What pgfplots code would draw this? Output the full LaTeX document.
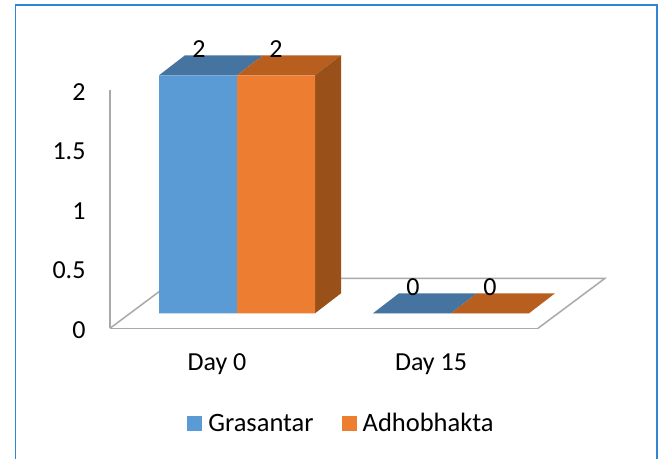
\documentclass[border=0pt]{standalone}
\usepackage{fontspec}
\setmainfont{Carlito}
\usepackage{xcolor}
\usepackage{pgfplots}
\pgfplotsset{compat=1.18}
\definecolor{serA}{HTML}{5B9BD5}
\definecolor{serAtop}{HTML}{44749F}
\definecolor{serB}{HTML}{ED7D31}
\definecolor{serBtop}{HTML}{B85E1F}
\definecolor{serBside}{HTML}{9A5119}
\definecolor{wall}{HTML}{A9A9A9}
\definecolor{frameblue}{HTML}{2F86D2}
\pgfplotsset{sqlegend/.style={legend image code/.code={\fill[##1] (0pt,-7.5pt) rectangle (15pt,7.5pt);}}}
\begin{document}
\begin{tikzpicture}[x=1pt,y=1pt]
\fill[white] (0,0) rectangle (659,459);
% outer frame, its lower edge is cut off in the original
\draw[frameblue,line width=1.8pt] (15.5,0) -- (15.5,453.7) -- (657,453.7) -- (657,0);

% back wall and floor, with the value ticks
\begin{axis}[
    at={(110pt,130.7pt)}, anchor=south west,
    scale only axis, width=428pt, height=238pt,
    xmin=-0.5, xmax=1.5, ymin=0, ymax=2,
    axis x line*=bottom, axis y line*=left,
    axis line style={wall,line width=1.5pt,-},
    xtick={0,1}, xticklabels={Day 0,Day 15},
    ytick={0,0.5,1,1.5,2},
    yticklabels={0,0.5,1,1.5,2},
    tick style={draw=none},
    tick label style={font=\fontsize{26}{30}\selectfont},
    xticklabel style={yshift=-22pt},
    yticklabel style={xshift=-21pt,yshift=-1.5pt},
    clip=false,
]
\addplot[wall,line width=1.5pt,forget plot] coordinates {(-0.5,0) (-0.187,0.42) (1.813,0.42) (1.5,0)};
\end{axis}

% bars, moved into the floor by the depth of the front plane
\begin{axis}[
    at={(130pt,145.7pt)}, anchor=south west,
    scale only axis, width=428pt, height=238pt,
    xmin=-0.5, xmax=1.5, ymin=0, ymax=2,
    hide axis, clip=false,
    /pgf/number format/assume math mode=true,
    legend style={at={(0.494,-0.463)}, anchor=center, draw=none, fill=none,
        font=\fontsize{26.5}{30}\selectfont, legend columns=2,
        /tikz/every odd column/.append style={column sep=4pt},
        /tikz/every even column/.append style={column sep=26pt}},
    every node near coord/.append style={font=\fontsize{26}{30}\selectfont,yshift=14pt},
]
% tops and side faces
\addplot[fill=serAtop,draw=none,forget plot] coordinates {(-0.3645,2) (0,2) (0.1215,2.168) (-0.243,2.168)} -- cycle;
\addplot[fill=serBtop,draw=none,forget plot] coordinates {(0,2) (0.3645,2) (0.486,2.168) (0.1215,2.168)} -- cycle;
\addplot[fill=serBside,draw=none,forget plot] coordinates {(0.3645,0) (0.3645,2) (0.486,2.168) (0.486,0.168)} -- cycle;
\addplot[fill=serAtop,draw=none,forget plot] coordinates {(0.6355,0) (1,0) (1.1215,0.168) (0.757,0.168)} -- cycle;
\addplot[fill=serBtop,draw=none,forget plot] coordinates {(1,0) (1.3645,0) (1.486,0.168) (1.1215,0.168)} -- cycle;
% front faces
\addplot[ybar,bar width=78pt,bar shift=-39pt,fill=serA,draw=none,sqlegend,
    nodes near coords,nodes near coords style={xshift=-38pt}] coordinates {(0,2) (1,0)};
\addplot[ybar,bar width=78pt,bar shift=39pt,fill=serB,draw=none,sqlegend,
    nodes near coords,nodes near coords style={xshift=39pt}] coordinates {(0,2) (1,0)};
\legend{Grasantar,Adhobhakta}
\end{axis}
\end{tikzpicture}
\end{document}
